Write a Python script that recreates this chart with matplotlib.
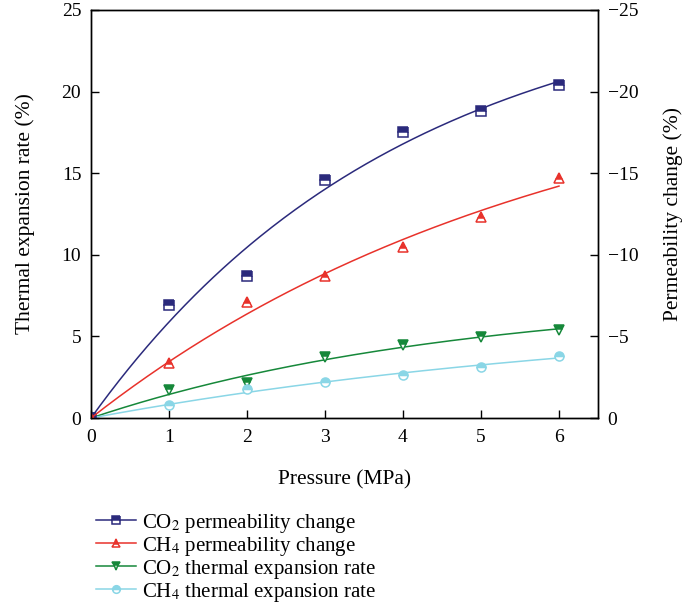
import numpy as np
import matplotlib.pyplot as plt

plt.rcParams['font.family'] = ['Liberation Serif', 'DejaVu Serif']
plt.rcParams['mathtext.fontset'] = 'stix'

pressure = [0, 1, 2, 3, 4, 5, 6]
co2_perm = [0, -6.9, -8.7, -14.6, -17.5, -18.8, -20.4]
ch4_perm = [0, -3.4, -7.1, -8.7, -10.5, -12.3, -14.7]
co2_therm = [0, 1.7, 2.15, 3.75, 4.5, 4.95, 5.4]
ch4_therm = [0, 0.8, 1.75, 2.2, 2.65, 3.15, 3.8]

labels = ["CO$_2$ permeability change", "CH$_4$ permeability change",
          "CO$_2$ thermal expansion rate", "CH$_4$ thermal expansion rate"]
colors = ["#2b2a7c", "#e8322b", "#16883a", "#8ad6e6"]
markers = ["s", "^", "v", "o"]


def fit_curve(x, y):
    # least squares fit of y = a*(1 - exp(-b*x))
    x = np.asarray(x, float)
    y = np.asarray(y, float)
    best = None
    for b in np.linspace(0.005, 1.5, 3000):
        g = 1 - np.exp(-b * x)
        a = (g @ y) / (g @ g)
        err = np.sum((a * g - y) ** 2)
        if best is None or err < best[0]:
            best = (err, a, b)
    xs = np.linspace(x.min(), x.max(), 200)
    return xs, best[1] * (1 - np.exp(-best[2] * xs))


fig = plt.figure(figsize=(6.85, 6.05), dpi=100)
ax = fig.add_axes([0.1328, 0.309, 0.7402, 0.6745])
ax2 = ax.twinx()

series = [(ax2, co2_perm), (ax2, ch4_perm), (ax, co2_therm), (ax, ch4_therm)]
handles = []
for (a, vals), lab, c, m in zip(series, labels, colors, markers):
    xs, ys = fit_curve(pressure, vals)
    a.plot(xs, ys, color=c, lw=1.1)
    a.plot(pressure, vals, ls='none', marker=m, ms=6.5, mec=c, mfc=c,
           fillstyle='top', markerfacecoloralt='white', mew=1.1)
    h, = ax.plot([], [], color=c, lw=1.1, marker=m, ms=5.5, mec=c, mfc=c,
                 fillstyle='top', markerfacecoloralt='white', mew=1.1, label=lab)
    handles.append(h)

ax.set_xlim(0, 6.5)
ax.set_ylim(0, 25)
ax2.set_ylim(0, -25)
ax.set_xticks(range(0, 7))
ax.set_yticks(range(0, 26, 5))
ax2.set_yticks(range(0, -26, -5))

for a in (ax, ax2):
    a.tick_params(direction='in', length=6, width=1, labelsize=14, pad=7)
    for s in a.spines.values():
        s.set_linewidth(1)
ax.tick_params(axis='x', pad=8)

ax.set_xlabel("Pressure (MPa)", fontsize=15.5, labelpad=17)
ax.set_ylabel("Thermal expansion rate (%)", fontsize=15.5, labelpad=19)
ax2.set_ylabel("Permeability change (%)", fontsize=15.5, labelpad=18)

fig.legend(handles=handles, loc='upper left', bbox_to_anchor=(0.128, 0.168),
           frameon=False, fontsize=15, handlelength=1.9, labelspacing=0.0,
           handletextpad=0.3, borderaxespad=0)

fig.savefig("out.png", dpi=100)
